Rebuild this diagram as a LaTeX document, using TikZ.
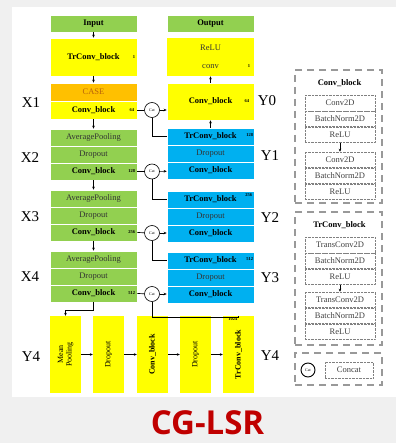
\documentclass[tikz,border=0pt]{standalone}
\usepackage{fontspec}
\setmainfont{Liberation Serif}
\newfontfamily\titlefont{Open Sans}
\usetikzlibrary{arrows.meta,positioning}
\definecolor{grn}{HTML}{92D050}
\definecolor{blu}{HTML}{00B0F0}
\definecolor{yel}{HTML}{FFFF00}
\definecolor{org}{HTML}{FFC000}
\definecolor{casetxt}{HTML}{B8620A}
\definecolor{ttl}{HTML}{C00000}
\definecolor{bg}{HTML}{F0F0F0}

\begin{document}
\begin{tikzpicture}[x=1pt, y=-1pt,
  lay/.style={minimum width=87pt, minimum height=17pt, inner sep=0pt, draw=white, line width=0.6pt, font=\fontsize{8.5}{9}\selectfont, text=black!80},
  gbox/.style={lay, fill=grn},
  bbox/.style={lay, fill=blu},
  ybox/.style={lay, fill=yel},
  obox/.style={lay, fill=org, text=casetxt},
  vbox/.style={fill=yel, minimum width=77pt, minimum height=31pt, inner sep=0pt, rotate=90, align=center, font=\fontsize{8}{8.5}\selectfont},
  bf/.style={font=\fontsize{8.5}{9}\selectfont\bfseries, text=black},
  num/.style={font=\fontsize{4.5}{5}\selectfont\bfseries, inner sep=0pt},
  cat/.style={circle, draw, line width=0.6pt, fill=white, minimum size=15pt, inner sep=0pt, font=\fontsize{4}{4}\selectfont},
  lev/.style={font=\fontsize{15}{15}\selectfont},
  arr/.style={-{Stealth[length=3pt, width=2.6pt]}, line width=0.6pt},
  lnk/.style={line width=0.7pt},
  lgd/.style={draw=gray!80, dashed, dash pattern=on 7pt off 5pt, line width=1.3pt},
  lrow/.style={draw=gray, densely dotted, minimum width=70pt, minimum height=15.5pt, inner sep=0pt, font=\fontsize{8.5}{9}\selectfont, text=black!75}]
% background
\fill[bg] (0,0) rectangle (396,443);
\fill[white] (12,7) rectangle (396,397);
\useasboundingbox (0,0) rectangle (396,443);

% encoder column
\node[gbox, bf] (inp) at (93.5,23.5) {Input};
\node[ybox, bf, minimum height=38pt] (trc) at (93.5,57) {TrConv\_block};
\node[obox, minimum height=18pt] (case) at (93.5,92) {CASE};
\node[ybox, bf, minimum height=18pt] (x1c) at (93.5,110) {Conv\_block};
\node[gbox] (x2p) at (93.5,137.5) {AveragePooling};
\node[gbox] (x2d) at (93.5,154.5) {Dropout};
\node[gbox, bf] (x2c) at (93.5,171.5) {Conv\_block};
\node[gbox] (x3p) at (93.5,198.5) {AveragePooling};
\node[gbox] (x3d) at (93.5,215.5) {Dropout};
\node[gbox, bf] (x3c) at (93.5,232.5) {Conv\_block};
\node[gbox] (x4p) at (93.5,259.5) {AveragePooling};
\node[gbox] (x4d) at (93.5,276.5) {Dropout};
\node[gbox, bf] (x4c) at (93.5,293.5) {Conv\_block};

\node[num, anchor=east] at ([xshift=-2pt]trc.east) {1};
\node[num, anchor=east] at ([xshift=-3pt]x1c.east) {64};
\node[num, anchor=east] at ([xshift=-2pt]x2c.east) {128};
\node[num, anchor=east] at ([xshift=-2pt]x3c.east) {256};
\node[num, anchor=east] at ([xshift=-2pt]x4c.east) {512};

% decoder column
\node[gbox, bf] (out) at (210.5,23.5) {Output};
\node[ybox, draw=none, minimum height=19pt] (relu) at (210.5,47.5) {ReLU};
\node[ybox, draw=none, minimum height=19pt] (conv) at (210.5,66.5) {conv};
\node[ybox, bf, minimum height=37pt] (y0c) at (210.5,101.5) {Conv\_block};
\node[bbox, bf] (y1t) at (210.5,136.5) {TrConv\_block};
\node[bbox] (y1d) at (210.5,153.5) {Dropout};
\node[bbox, bf] (y1c) at (210.5,170.5) {Conv\_block};
\node[bbox, bf] (y2t) at (210.5,199.5) {TrConv\_block};
\node[bbox] (y2d) at (210.5,216.5) {Dropout};
\node[bbox, bf] (y2c) at (210.5,233.5) {Conv\_block};
\node[bbox, bf] (y3t) at (210.5,260.5) {TrConv\_block};
\node[bbox] (y3d) at (210.5,277.5) {Dropout};
\node[bbox, bf] (y3c) at (210.5,294.5) {Conv\_block};

\node[num, anchor=east] at ([xshift=-4pt]conv.east) {1};
\node[num, anchor=east] at ([xshift=-5pt]y0c.east) {64};
\node[num, anchor=east] at ([xshift=-1pt, yshift=1pt]y1t.east) {128};
\node[num, anchor=east] at ([xshift=-2pt, yshift=4pt]y2t.east) {256};
\node[num, anchor=east] at ([xshift=-1pt, yshift=1pt]y3t.east) {512};

% bottleneck
\node[vbox] (mp) at (65.5,354.5) {Mean\\Pooling};
\node[vbox] (bd1) at (108.5,354.5) {Dropout};
\node[vbox, font=\fontsize{8}{8.5}\selectfont\bfseries] (bc) at (152.5,354.5) {Conv\_block};
\node[vbox] (bd2) at (195.5,354.5) {Dropout};
\node[vbox, font=\fontsize{8}{8.5}\selectfont\bfseries] (bt) at (238.5,354.5) {TrConv\_block};
\node[num, anchor=north east] at ([xshift=-1pt, yshift=-2pt]bt.east) {1024};

% level labels
\node[lev] (lx1) at (31,103) {X1};
\node[lev] (lx2) at (30,158) {X2};
\node[lev] (lx3) at (30,217) {X3};
\node[lev] (lx4) at (30,277) {X4};
\node[lev] (ly4a) at (31,357) {Y4};
\node[lev] (ly0) at (267,101) {Y0};
\node[lev] (ly1) at (270,156) {Y1};
\node[lev] (ly2) at (270,218) {Y2};
\node[lev] (ly3) at (270,278) {Y3};
\node[lev] (ly4b) at (270,356) {Y4};

% concat nodes
\node[cat] (c1) at (152,110) {Cat};
\node[cat] (c2) at (152,171.5) {Cat};
\node[cat] (c3) at (152,233) {Cat};
\node[cat] (c4) at (152,294) {Cat};

% encoder arrows
\draw[arr] (inp) -- (trc);
\draw[arr] (trc) -- (case);
\draw[arr] (x1c) -- (x2p);
\draw[arr] (x2c) -- (x3p);
\draw[arr] (x3c) -- (x4p);

% decoder arrows
\draw[arr] (y0c) -- (conv);
\draw[arr] (y1t) -- (y0c);

% skip links
\draw[lnk] (x1c) -- (c1);
\draw[lnk] (x2c) -- (c2);
\draw[lnk] (x3c.east) -- (c3);
\draw[lnk] (x4c.east) -- (c4);
\draw[arr] (c1) -- (y0c.west |- c1);
\draw[arr] (c2) -- (y1c);
\draw[arr] (c3) -- (y2c.west |- c3);
\draw[arr] (c4) -- (y3c.west |- c4);
\draw[lnk] (c1) |- (y1t);
\draw[lnk] (c2) |- (y2t);
\draw[lnk] (c3) |- (y3t);
\draw[lnk] (c4.south) -- ++(0,16) -| (bt.east);
\draw[arr] (x4c.south) -- ++(0,8) -| (mp.east);

% bottleneck arrows
\draw[arr] (mp) -- (bd1);
\draw[arr] (bd1) -- (bc);
\draw[arr] (bc) -- (bd2);
\draw[arr] (bd2) -- (bt);

% legend: Conv_block
\node[lgd, minimum width=87pt, minimum height=133pt] (lg1) at (338.5,136.5) {};
\node[font=\fontsize{8.5}{9}\selectfont\bfseries] (lg1t) at (339.5,83) {Conv\_block};
\node[lrow] (a1) at (340,103) {Conv2D};
\node[lrow, below=0pt of a1] (a2) {BatchNorm2D};
\node[lrow, below=0pt of a2] (a3) {ReLU};
\node[lrow, below=9pt of a3] (a4) {Conv2D};
\node[lrow, below=0pt of a4] (a5) {BatchNorm2D};
\node[lrow, below=0pt of a5] (a6) {ReLU};
\draw[arr] (a3) -- (a4);

% legend: TrConv_block
\node[lgd, minimum width=87pt, minimum height=133pt] (lg2) at (338.5,278.5) {};
\node[font=\fontsize{8.5}{9}\selectfont\bfseries] (lg2t) at (339.5,225) {TrConv\_block};
\node[lrow] (b1) at (340,245) {TransConv2D};
\node[lrow, below=0pt of b1] (b2) {BatchNorm2D};
\node[lrow, below=0pt of b2] (b3) {ReLU};
\node[lrow, below=7pt of b3] (b4) {TransConv2D};
\node[lrow, below=0pt of b4] (b5) {BatchNorm2D};
\node[lrow, below=0pt of b5] (b6) {ReLU};
\draw[arr] (b3) -- (b4);

% legend: concat
\node[lgd, minimum width=87pt, minimum height=32pt] (lg3) at (338.5,369) {};
\node[cat, line width=0.9pt, minimum size=14pt] (lc) at (308,370) {Cat};
\node[lrow, minimum width=48pt, minimum height=16pt] (lct) at (349,370) {Concat};

% title
\node[font=\fontsize{33}{33}\selectfont\titlefont\bfseries, text=ttl, anchor=base, inner sep=0pt] (title) at (207.5,434) {CG-LSR};
\end{tikzpicture}
\end{document}
